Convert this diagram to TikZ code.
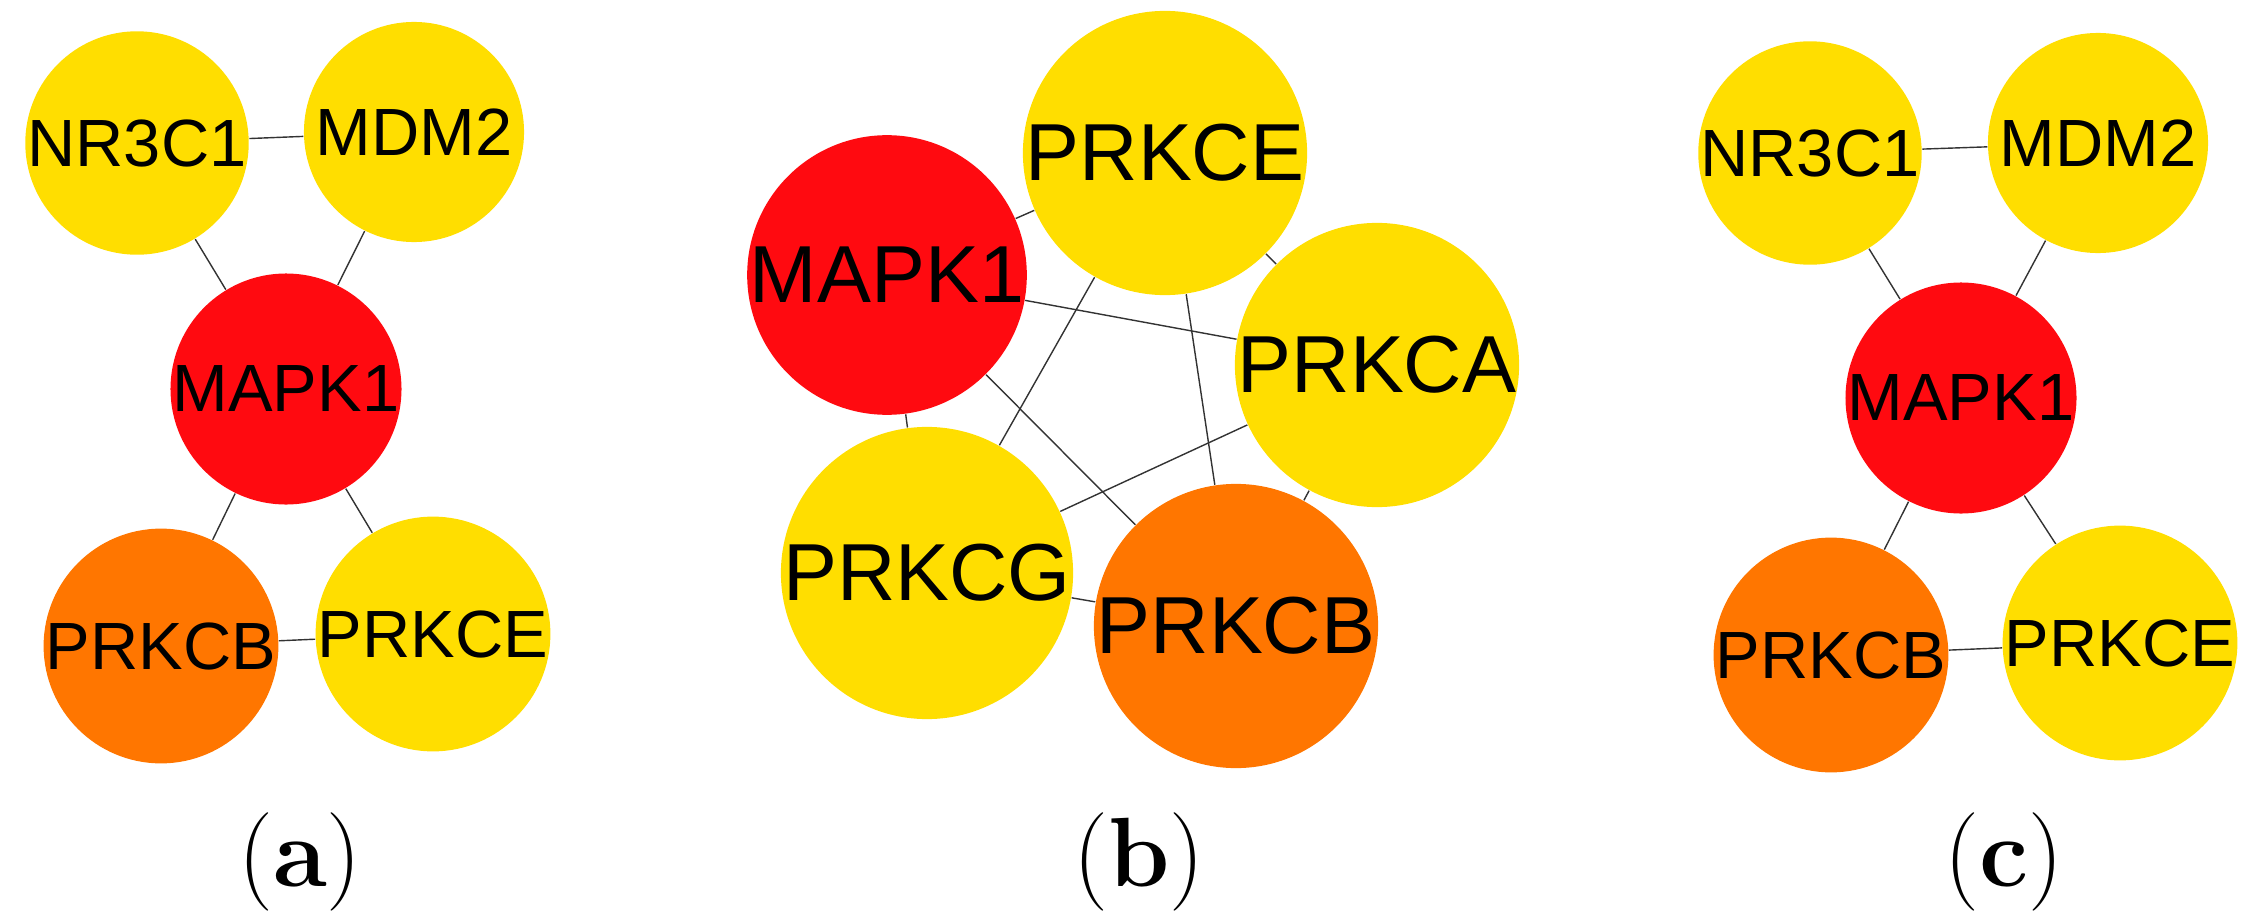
\documentclass[tikz,border=0pt]{standalone}
\usepackage{fontspec}
\newfontfamily\genefont{Liberation Sans}
\definecolor{hubred}{HTML}{FF0A10}
\definecolor{midorange}{HTML}{FF7600}
\definecolor{lowyellow}{HTML}{FFDE00}
\tikzset{
  gene/.style={circle, draw=none, minimum size=2.2cm, inner sep=0pt, font=\genefont\fontsize{19}{19}\selectfont},
  bgene/.style={gene, minimum size=2.52cm, font=\genefont\fontsize{23}{23}\selectfont},
  link/.style={draw=black!80, line width=0.4pt},
  panel/.style={font=\fontsize{28}{28}\selectfont}
}
\begin{document}
\begin{tikzpicture}[x=0.01cm,y=-0.01cm]
  \useasboundingbox (0,0) rectangle (2250,912);

  % Panel (a)
  \node[gene, fill=lowyellow] (a1) at (137,143) {NR3C1};
  \node[gene, fill=lowyellow] (a2) at (414,132) {MDM2};
  \node[gene, fill=hubred] (a3) at (286,389) {MAPK1};
  \node[gene, fill=midorange] (a4) at (161,646) {PRKCB};
  \node[gene, fill=lowyellow] (a5) at (433,634) {PRKCE};
  \begin{scope}[on background layer/.style={}]
  \foreach \u/\v in {a1/a2,a1/a3,a2/a3,a3/a4,a3/a5,a4/a5}
    \draw[link] (\u) -- (\v);
  \end{scope}

  % Panel (b)
  \node[bgene, fill=lowyellow] (b1) at (1165,153) {PRKCE};
  \node[bgene, fill=hubred] (b2) at (887,275) {MAPK1};
  \node[bgene, fill=lowyellow] (b3) at (1377,365) {PRKCA};
  \node[bgene, fill=lowyellow] (b4) at (927,573) {PRKCG};
  \node[bgene, fill=midorange] (b5) at (1236,626) {PRKCB};
  \foreach \u/\v in {b2/b1,b2/b3,b2/b4,b2/b5,b1/b3,b1/b4,b1/b5,b3/b4,b3/b5,b4/b5}
    \draw[link] (\u) -- (\v);

  % Panel (c)
  \node[gene, fill=lowyellow] (c1) at (1810,153) {NR3C1};
  \node[gene, fill=lowyellow] (c2) at (2098,143) {MDM2};
  \node[gene, fill=hubred] (c3) at (1961,398) {MAPK1};
  \node[gene, fill=midorange] (c4) at (1831,655) {PRKCB};
  \node[gene, fill=lowyellow] (c5) at (2120,643) {PRKCE};
  \foreach \u/\v in {c1/c2,c1/c3,c2/c3,c3/c4,c3/c5,c4/c5}
    \draw[link] (\u) -- (\v);

  % Captions
  \node[panel] (capa) at (300,862) {(\textbf{a})};
  \node[panel] (capb) at (1139,862) {(\textbf{b})};
  \node[panel] (capc) at (2004,862) {(\textbf{c})};
\end{tikzpicture}
\end{document}
